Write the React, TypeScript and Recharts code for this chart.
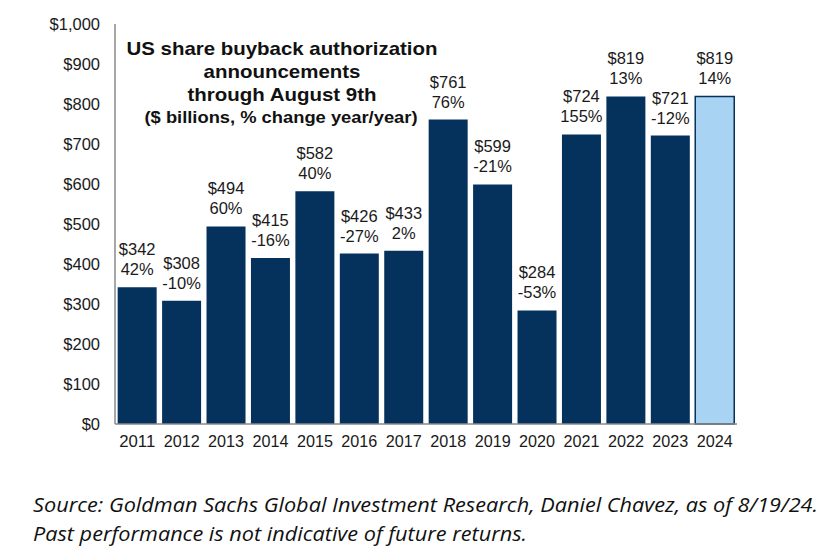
import { BarChart, Bar, XAxis, YAxis, Cell, LabelList } from 'recharts'

const years = ['2011', '2012', '2013', '2014', '2015', '2016', '2017', '2018', '2019', '2020', '2021', '2022', '2023', '2024']
const amounts = [342, 308, 494, 415, 582, 426, 433, 761, 599, 284, 724, 819, 721, 819]
const pctChange = ['42%', '-10%', '60%', '-16%', '40%', '-27%', '2%', '76%', '-21%', '-53%', '155%', '13%', '-12%', '14%']
const yTicks = [0, 100, 200, 300, 400, 500, 600, 700, 800, 900, 1000]

const titleLines = ['US share buyback authorization', 'announcements', 'through August 9th', '($ billions, % change year/year)']
const footLines = [
  'Source: Goldman Sachs Global Investment Research, Daniel Chavez,  as of 8/19/24.',
  'Past performance is not indicative of future returns.',
]

const NAVY = '#04325c'
const LIGHT = '#a9d3f2'
const FRAME = '#8a8a8a'
const FONT = "'Liberation Sans', Arial, sans-serif"

const data = years.map((y, i) => ({ year: y, amount: amounts[i], pct: pctChange[i] }))

const fmtY = (v: number) => `$${v.toLocaleString('en-US')}`

// two-line label: "$342" over "42%"
const TwoLineLabel = (props: any) => {
  const { x, y, width, index } = props
  const cx = x + width / 2
  return (
    <g fontFamily={FONT} fontSize={16.5} fill="#1a1a1a" textAnchor="middle">
      <text x={cx} y={y - 32}>{`$${amounts[index]}`}</text>
      <text x={cx} y={y - 12}>{pctChange[index]}</text>
    </g>
  )
}

// year labels are a little condensed in the source
const YearTick = (props: any) => {
  const { x, y, payload } = props
  return (
    <text x={x} y={y + 13} textAnchor="middle" fontFamily={FONT} fontSize={16.5} fill="#1a1a1a"
      textLength={36} lengthAdjust="spacingAndGlyphs">
      {payload.value}
    </text>
  )
}

export default function App() {
  return (
    <div style={{ position: 'relative', width: 836, height: 556, margin: -8, background: '#fff', fontFamily: FONT }}>
      <BarChart
        width={836}
        height={460}
        data={data}
        margin={{ top: 24, right: 99, left: 0, bottom: 6 }}
        barCategoryGap="6%"
      >
        <XAxis
          dataKey="year"
          axisLine={{ stroke: FRAME, strokeWidth: 1.5 }}
          tickLine={false}
          tickSize={4}
          tickMargin={6}
          height={30}
          interval={0}
          tick={<YearTick />}
        />
        <XAxis xAxisId="top" dataKey="year" orientation="top" height={0}
          tick={false} tickLine={false} axisLine={{ stroke: FRAME, strokeWidth: 1.5 }} />
        <YAxis
          domain={[0, 1000]}
          ticks={yTicks}
          tickFormatter={fmtY}
          interval={0}
          width={115}
          axisLine={{ stroke: FRAME, strokeWidth: 1.5 }}
          tickLine={false}
          tickSize={8}
          tickMargin={7}
          tick={{ fontSize: 16.5, fill: '#1a1a1a', fontFamily: FONT }}
        />
        <YAxis yAxisId="right" orientation="right" width={0} domain={[0, 1000]}
          tick={false} tickLine={false} axisLine={{ stroke: FRAME, strokeWidth: 1.5 }} />
        <Bar dataKey="amount" isAnimationActive={false}>
          {data.map((d, i) => (
            <Cell key={d.year}
              fill={i === data.length - 1 ? LIGHT : NAVY}
              stroke={i === data.length - 1 ? NAVY : 'none'}
              strokeWidth={1.5} />
          ))}
          <LabelList dataKey="amount" content={<TwoLineLabel />} />
        </Bar>
      </BarChart>

      <svg width={836} height={556} style={{ position: 'absolute', left: 0, top: 0, pointerEvents: 'none' }}>
        <g fontFamily={FONT} fontWeight={700} fill="#111" textAnchor="middle">
          <text x={282} y={55} fontSize={18.5} textLength={311} lengthAdjust="spacingAndGlyphs">{titleLines[0]}</text>
          <text x={282} y={78} fontSize={18.5} textLength={157} lengthAdjust="spacingAndGlyphs">{titleLines[1]}</text>
          <text x={282} y={101} fontSize={18.5} textLength={189} lengthAdjust="spacingAndGlyphs">{titleLines[2]}</text>
          <text x={281} y={123} fontSize={16} textLength={273} lengthAdjust="spacingAndGlyphs">{titleLines[3]}</text>
        </g>
        <g fontFamily="'Open Sans', sans-serif" fontStyle="italic" fontSize={20} fill="#111">
          <text x={33} y={512} textLength={785} lengthAdjust="spacingAndGlyphs">{footLines[0]}</text>
          <text x={33} y={541} textLength={494} lengthAdjust="spacingAndGlyphs">{footLines[1]}</text>
        </g>
      </svg>
    </div>
  )
}
